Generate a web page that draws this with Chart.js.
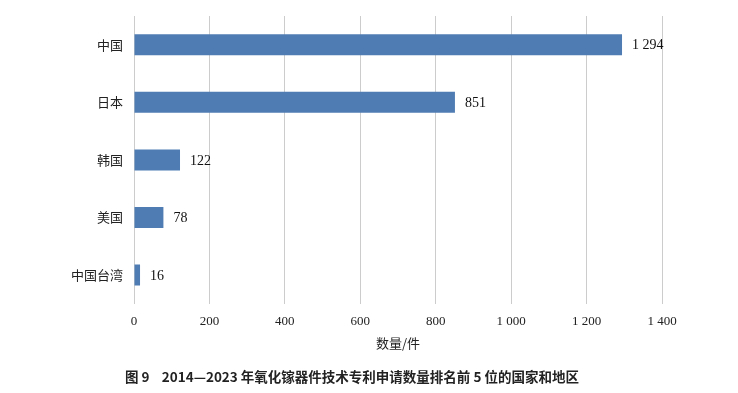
<!DOCTYPE html>
<html><head><meta charset="utf-8">
<script src="https://cdn.jsdelivr.net/npm/chart.js@4/dist/chart.umd.min.js"></script>
<style>html,body{margin:0;padding:0;background:#fff}#wrap{width:738px;height:393px;position:relative}</style>
</head><body><div id="wrap"><canvas id="c" width="738" height="393"></canvas></div>
<script>
const categories = ["中国", "日本", "韩国", "美国", "中国台湾"];
const values = [1294, 851, 122, 78, 16];
const xTicks = [0, 200, 400, 600, 800, 1000, 1200, 1400];
const xTitle = "数量/件";
const caption = "图 9    2014—2023 年氧化镓器件技术专利申请数量排名前 5 位的国家和地区";

const fmt = v => String(v).replace(/\B(?=(\d{3})+(?!\d))/g, " ");
const serif = "'Liberation Serif', 'Noto Sans CJK SC', serif";

const labelPlugin = {
  id: 'barLabels',
  afterDatasetsDraw(chart) {
    const ctx = chart.ctx;
    const meta = chart.getDatasetMeta(0);
    ctx.save();
    ctx.font = "14px " + serif;
    ctx.fillStyle = "#111";
    ctx.textBaseline = "middle";
    ctx.textAlign = "left";
    meta.data.forEach((bar, i) => {
      ctx.fillText(fmt(values[i]), bar.x + 10, bar.y + 1);
    });
    ctx.restore();
  }
};

const captionPlugin = {
  id: 'caption',
  afterDraw(chart) {
    const ctx = chart.ctx;
    ctx.save();
    ctx.font = "bold 13.5px 'Noto Sans CJK SC', sans-serif";
    ctx.fillStyle = "#222";
    ctx.textBaseline = "middle";
    ctx.textAlign = "center";
    ctx.fillText(caption, 352, 377);
    ctx.restore();
  }
};

new Chart(document.getElementById('c'), {
  type: 'bar',
  data: {
    labels: categories,
    datasets: [{
      data: values,
      backgroundColor: '#4f7db3',
      barPercentage: 0.365,
      categoryPercentage: 1.0
    }]
  },
  options: {
    indexAxis: 'y',
    responsive: false,
    animation: false,
    devicePixelRatio: 1,
    layout: { padding: { left: 68, right: 76, top: 16, bottom: 42 } },
    plugins: {
      legend: { display: false },
      tooltip: { enabled: false },
      title: { display: false }
    },
    scales: {
      x: {
        min: 0, max: 1400,
        afterBuildTicks: axis => { axis.ticks = xTicks.map(v => ({ value: v })); },
        ticks: {
          callback: v => fmt(v),
          font: { family: serif, size: 13 },
          color: '#222',
          padding: 10,
          maxRotation: 0
        },
        grid: { color: '#cccccc', lineWidth: 1, drawTicks: false },
        border: { display: false },
        title: {
          display: true, text: xTitle,
          font: { family: "'Noto Sans CJK SC', serif", size: 13 },
          color: '#222', padding: { top: -4, bottom: 0 }
        }
      },
      y: {
        grid: { display: false },
        border: { display: false },
        ticks: {
          font: { family: "'Noto Sans CJK SC', serif", size: 13 },
          color: '#222',
          padding: 3
        }
      }
    }
  },
  plugins: [labelPlugin, captionPlugin]
});
</script></body></html>
